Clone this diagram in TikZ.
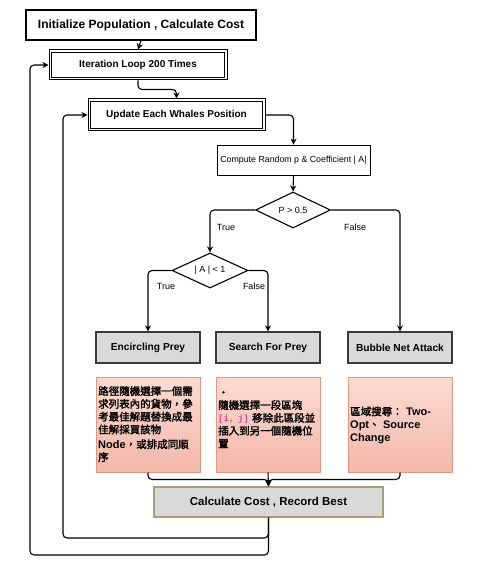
\documentclass[tikz,border=0pt]{standalone}
\usepackage{fontspec}
\setmainfont{Liberation Sans}
\newfontfamily\cjk{Noto Sans CJK TC}[AutoFakeBold=2]
\newfontfamily\monof{Liberation Mono}
\usetikzlibrary{shapes.geometric,arrows.meta,calc}
\definecolor{grayfill}{HTML}{D9D9D9}
\definecolor{grayline}{HTML}{3A3A3A}
\definecolor{olive}{HTML}{A6A07A}
\definecolor{pinktop}{HTML}{FDDBD2}
\definecolor{pinkbot}{HTML}{F2B7A9}
\definecolor{pinkline}{HTML}{E09585}
\definecolor{codepink}{HTML}{E0408A}
\tikzset{
  x=1pt,y=-1pt,
  conn/.style={line width=1.1pt,rounded corners=4pt},
  arr/.style={conn,-{Stealth[length=6pt,width=6pt]}},
  plainbox/.style={draw=black,line width=1.1pt,fill=white,minimum height=30pt,font=\bfseries\fontsize{12}{14}\selectfont},
  dblbox/.style={draw=black,line width=1pt,fill=white,font=\bfseries\fontsize{10}{12}\selectfont},
  innerline/.style={draw=black,line width=1pt},
  thinbox/.style={draw=black,line width=0.9pt,fill=white,font=\fontsize{8.8}{10}\selectfont},
  dia/.style={diamond,draw=black,line width=1.1pt,fill=white,aspect=2.1,inner sep=0pt,font=\fontsize{9}{11}\selectfont},
  graybox/.style={draw=grayline,line width=1.2pt,fill=grayfill,minimum width=104pt,minimum height=31pt,font=\bfseries\fontsize{10.2}{12}\selectfont},
  pinkbox/.style={draw=pinkline,line width=1pt,top color=pinktop,bottom color=pinkbot,minimum width=104pt,minimum height=95pt},
  lbl/.style={font=\fontsize{9}{11}\selectfont},
  ptext/.style={anchor=north west,align=left,inner sep=0pt,text width=102pt,font=\cjk\bfseries\fontsize{10.5}{12.8}\selectfont},
  lat/.style={}
}
\newcommand{\lt}[1]{{\rmfamily\bfseries\fontsize{11}{12.8}\selectfont #1}}
\begin{document}
\begin{tikzpicture}
\useasboundingbox (0,0) rectangle (476,569);
% top boxes
\node[plainbox,minimum width=230pt] (init) at (141,25) {Initialize Population , Calculate Cost};
\node[dblbox,minimum width=178pt,minimum height=30pt] (iter) at (138,65) {Iteration Loop 200 Times};
\draw[innerline] ($(iter.north west)+(3,3)$) rectangle ($(iter.south east)+(-3,-3)$);
\node[dblbox,minimum width=177pt,minimum height=32pt] (upd) at (176.5,115) {Update Each Whales Position};
\draw[innerline] ($(upd.north west)+(3,3)$) rectangle ($(upd.south east)+(-3,-3)$);
\node[thinbox,minimum width=153pt,minimum height=30pt] (comp) at (293.5,160) {Compute Random p \& Coefficient | A|};
\node[dia,minimum width=75pt,minimum height=36pt] (d1) at (293,210) {P > 0.5};
\node[dia,minimum width=76pt,minimum height=35pt] (d2) at (210,270.5) {| A | < 1};
% action boxes
\node[graybox] (enc) at (148,347.5) {Encircling Prey};
\node[graybox] (sea) at (268,347.5) {Search For Prey};
\node[graybox] (bub) at (400,347.5) {Bubble Net Attack};
\node[pinkbox] (p1) at (148,424.5) {};
\node[pinkbox] (p2) at (268,424.5) {};
\node[pinkbox] (p3) at (400,424.5) {};
\node[ptext] (t1) at (98,386) {路徑隨機選擇一個需\\求列表內的貨物，參\\考最佳解題替換成最\\佳解採買該物\\[2pt]\lt{Node}，或排成同順\\序};
\node[ptext] (t2) at (218,391) {•\\隨機選擇一段區塊\\{\monof\color{codepink}\fontsize{9}{12}\selectfont[i, j]} 移除此區段並\\插入到另一個隨機位\\置};
\node[ptext,anchor=west] (t3) at (350,425) {區域搜尋： \lt{Two-}\\\lt{Opt}、 \lt{Source}\\\lt{Change}};
\node[graybox,draw=olive,minimum width=229pt,minimum height=30pt,font=\bfseries\fontsize{11.5}{13}\selectfont] (calc) at (268.5,502) {Calculate Cost , Record Best};
% loop coordinates
\coordinate (l1) at (63,538);
\coordinate (l2) at (30,555);
% connectors
\draw[arr] (init.south) -- (iter.north);
\draw[arr] (iter.south) -- ++(0,9) -| (upd.north);
\draw[arr] (upd.east) -| (comp.north);
\draw[arr] (comp.south) -- (d1.north);
\draw[arr] (d1.west) -| (d2.north);
\draw[arr] (d1.east) -| (bub.north);
\draw[arr] (d2.west) -| (enc.north);
\draw[arr] (d2.east) -| (sea.north);
\node[lbl] (lt1) at (226,227) {True};
\node[lbl] (lf1) at (355,227) {False};
\node[lbl] (lt2) at (166,286) {True};
\node[lbl] (lf2) at (254,286) {False};
\draw[arr] (p1.south) -- ++(0,7) -| (calc.north);
\draw[arr] (p3.south) -- ++(0,7) -| (calc.north);
\draw[arr] (p2.south) -- (calc.north);
\draw[arr] (calc.south) |- (l1) |- (upd.west);
\draw[arr] (calc.south) |- (l2) |- (iter.west);
\end{tikzpicture}
\end{document}
